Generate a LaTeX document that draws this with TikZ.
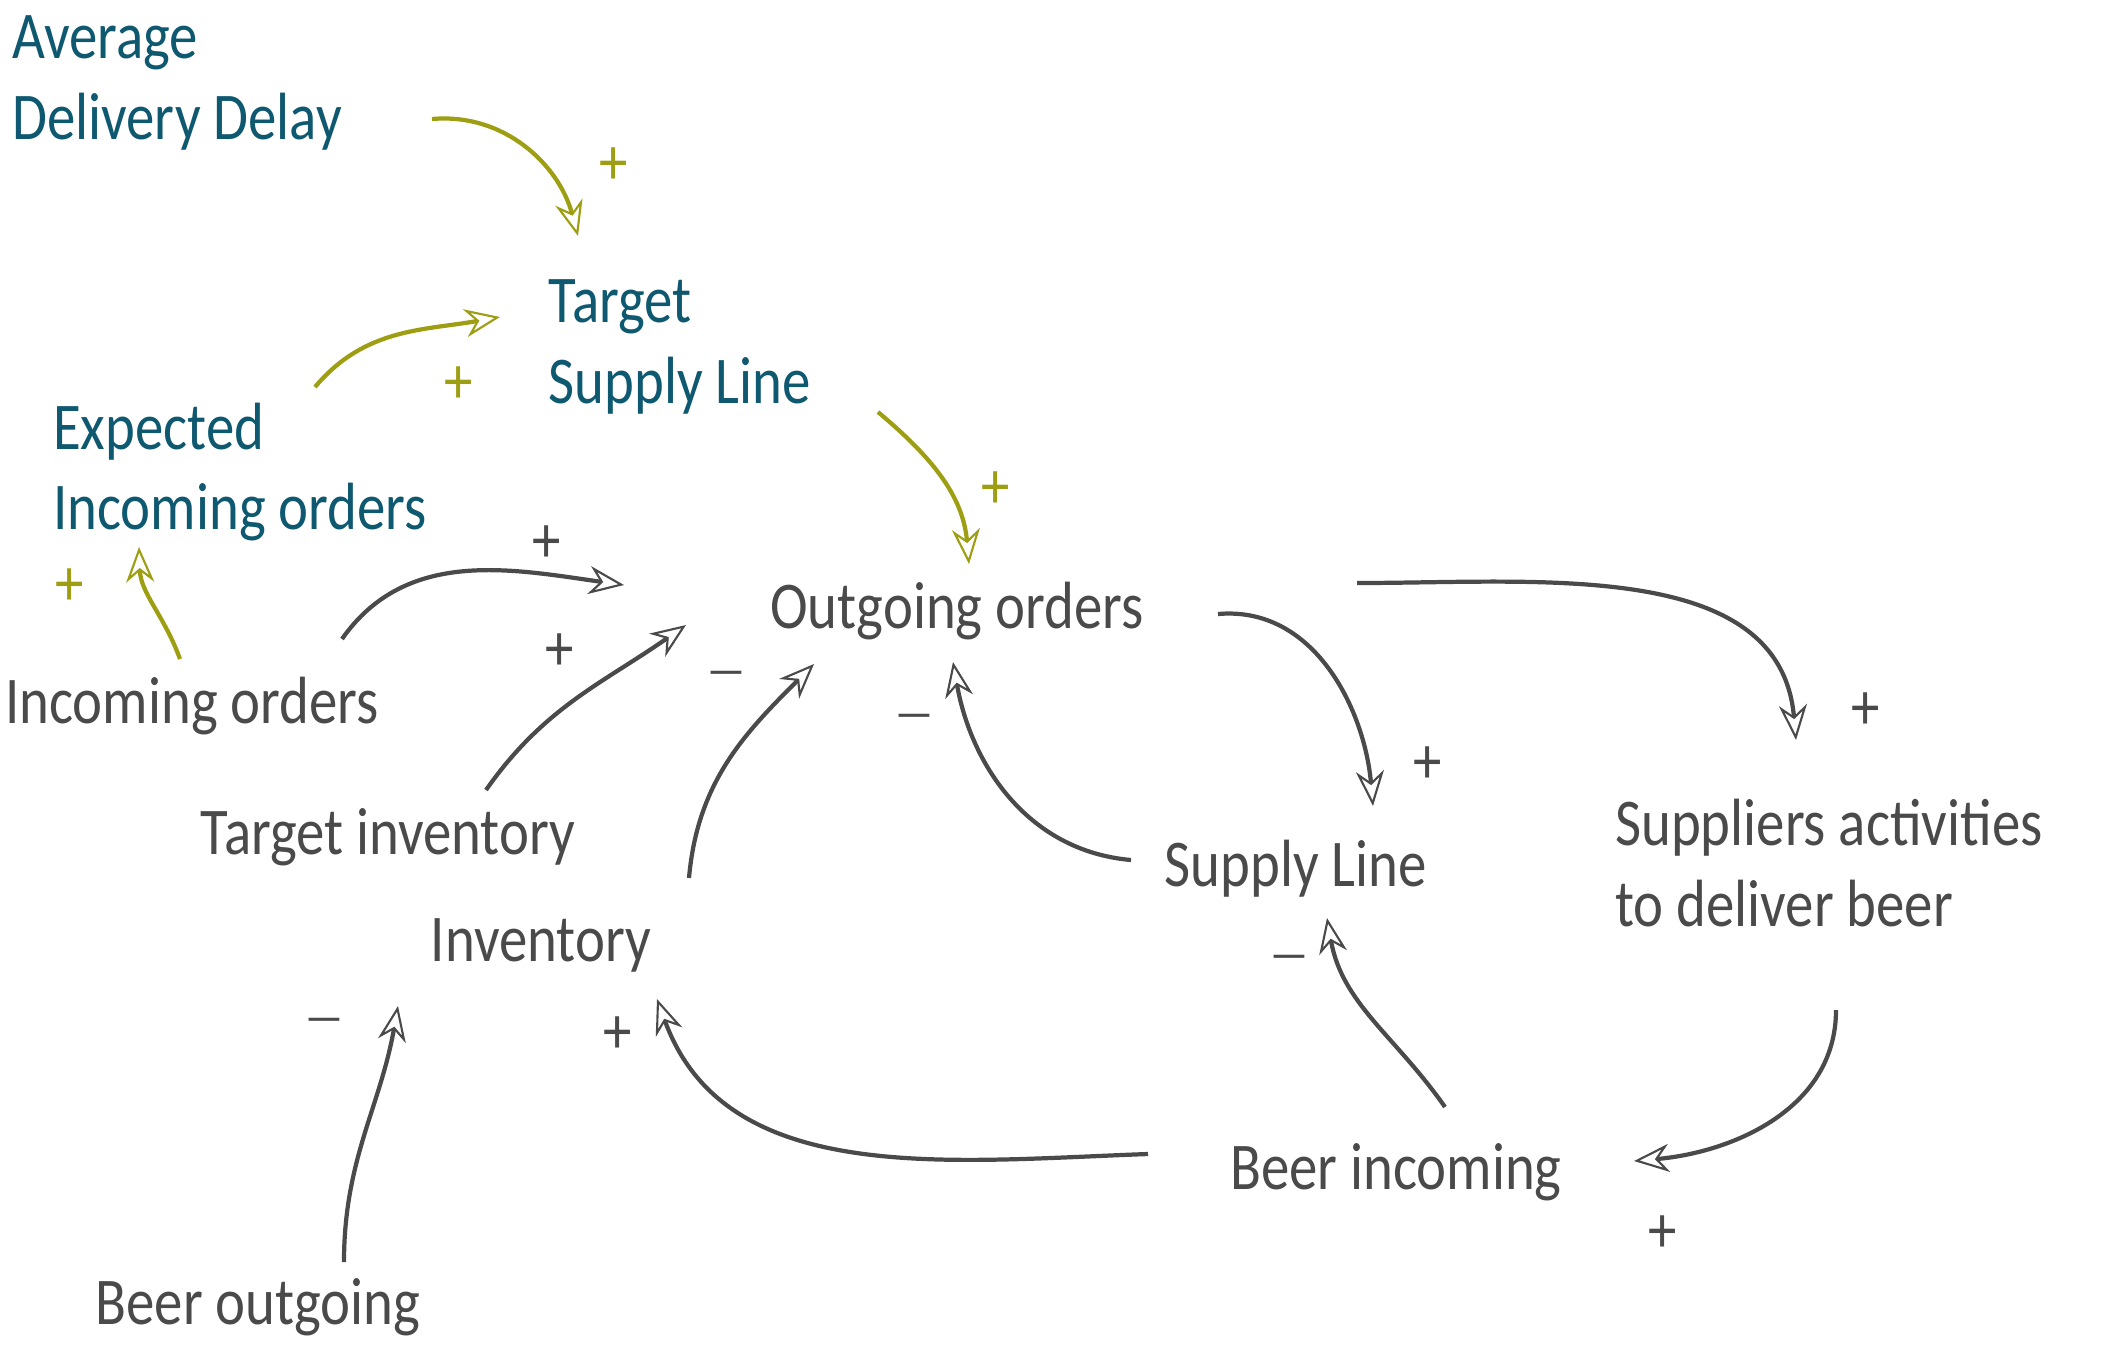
\documentclass[tikz,border=0pt]{standalone}
\usepackage{fontspec}
\setmainfont{Carlito}[FakeStretch=0.85]
\usetikzlibrary{arrows.meta,calc}
\definecolor{tealc}{HTML}{0E5870}
\definecolor{olivec}{HTML}{9E9E12}
\definecolor{greyc}{HTML}{4A4A4A}
\begin{document}
\begin{tikzpicture}[x=0.01cm,y=0.01cm,
  lbl/.style={font=\fontsize{19}{23}\selectfont, inner sep=0pt, align=left},
  tvar/.style={lbl,text=tealc},
  gvar/.style={lbl,text=greyc},
  olink/.style={draw=olivec,line width=1.2pt,-{Stealth[open,length=10pt,width=8pt,line width=0.6pt]}},
  glink/.style={draw=greyc,line width=1.2pt,-{Stealth[open,length=10pt,width=8pt,line width=0.6pt]}},
  opol/.style={text=olivec,font=\fontsize{19}{23}\selectfont,inner sep=0pt},
  gpol/.style={text=greyc,font=\fontsize{19}{23}\selectfont,inner sep=0pt},
  gneg/.style={text=greyc,font=\fontsize{14}{16}\selectfont,inner sep=0pt}
]
\path[fill=white,use as bounding box] (0,0) rectangle (2117,-1350);

% variables
\node[tvar] (add) at (177,-83) {Average\\Delivery Delay};
\node[tvar] (tsl) at (680,-347) {Target\\Supply Line};
\node[tvar] (eio) at (240,-472) {Expected\\Incoming orders};
\node[gvar] (io) at (192,-706) {Incoming orders};
\node[gvar] (oo) at (957,-611) {Outgoing orders};
\node[gvar] (ti) at (388,-837) {Target inventory};
\node[gvar] (inv) at (541,-945) {Inventory};
\node[gvar] (sl) at (1296,-869) {Supply Line};
\node[gvar] (sad) at (1829,-863) {Suppliers activities\\to deliver beer};
\node[gvar] (bi) at (1396,-1172) {Beer incoming};
\node[gvar] (bo) at (258,-1307) {Beer outgoing};

% olive links
\draw[olink] ($(add)+(255,-36)$) to[out=5,in=105] ($(tsl)+(-102,111)$);
\draw[olink] ($(eio)+(75,85)$) to[out=50,in=190] ($(tsl)+(-180,30)$);
\draw[olink] ($(tsl)+(198,-65)$) to[out=-40,in=95] ($(oo)+(12,47)$);
\draw[olink] ($(io)+(-12,47)$) to[out=110,in=-88] ($(eio)+(-101,-75)$);

% grey links
\draw[glink] ($(io)+(150,67)$) to[out=55,in=172] ($(oo)+(-333,26)$);
\draw[glink] ($(ti)+(98,47)$) to[out=55,in=215] ($(oo)+(-271,-14)$);
\draw[glink] ($(inv)+(148,67)$) to[out=85,in=225] ($(oo)+(-143,-53)$);
\draw[glink] ($(sl)+(-165,9)$) to[out=175,in=-80] ($(oo)+(-4,-51)$);
\draw[glink] ($(oo)+(261,-3)$) to[out=5,in=95] ($(sl)+(77,63)$);
\draw[glink] ($(oo)+(400,28)$) to[out=0,in=95] ($(sad)+(-33,123)$);
\draw[glink] ($(sad)+(7,-147)$) to[out=-90,in=5] ($(bi)+(238,11)$);
\draw[glink] ($(bi)+(49,65)$) to[out=125,in=-80] ($(sl)+(31,-49)$);
\draw[glink] ($(bi)+(-248,18)$) to[out=182,in=-70] ($(inv)+(116,-54)$);
\draw[glink] ($(bo)+(86,45)$) to[out=90,in=-100] ($(inv)+(-143,-61)$);

% polarities
\node[opol] (p1) at (614,-166) {+};
\node[opol] (p2) at (459,-385) {+};
\node[opol] (p3) at (996,-490) {+};
\node[opol] (p4) at (70,-587) {+};
\node[gpol] (p5) at (547,-544) {+};
\node[gpol] (p6) at (560,-652) {+};
\node[gneg] (p7) at (726,-679) {—};
\node[gneg] (p8) at (914,-722) {—};
\node[gpol] (p9) at (1428,-765) {+};
\node[gpol] (p10) at (1866,-711) {+};
\node[gpol] (p11) at (1663,-1234) {+};
\node[gneg] (p12) at (1289,-963) {—};
\node[gpol] (p13) at (618,-1035) {+};
\node[gneg] (p14) at (324,-1026) {—};
\end{tikzpicture}
\end{document}
